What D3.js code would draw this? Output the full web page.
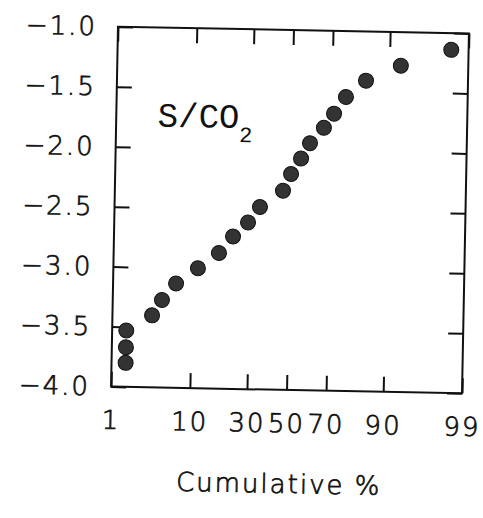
<!DOCTYPE html>
<html>
<head>
<meta charset="utf-8">
<script src="https://cdn.jsdelivr.net/npm/d3@7"></script>
<style>
  body { margin: 0; background: #fff; }
  .axis text { font-family: "DejaVu Sans", sans-serif; font-size: 26px; font-weight: 200; fill: #111; stroke: #111; stroke-width: 0.7; }
  .axis line { stroke: #111; stroke-width: 2; }
</style>
</head>
<body>
<script>
// Data: cumulative probability (%) and value

const cumPercent = [1.62, 1.62, 1.62, 3.58, 4.71, 6.79, 11.4, 17.6, 22.7, 29.0, 34.5,
                    46.1, 50.2, 55.3, 59.8, 66.6, 71.2, 76.2, 83.5, 92.4, 98.2];
const logRatio = [-3.53, -3.67, -3.80, -3.40, -3.27, -3.13, -3.00, -2.87, -2.73, -2.61, -2.48,
                  -2.34, -2.20, -2.07, -1.94, -1.81, -1.69, -1.55, -1.41, -1.28, -1.14];
const xTicks = [1, 10, 30, 50, 70, 90, 99];
const yTicks = [-4.0, -3.5, -3.0, -2.5, -2.0, -1.5, -1.0];

// Set Dimensions

const width = 483, height = 518;
const xLeft = 114.5, xRight = 465.5, yTop = 30, yBottom = 390;

// inverse normal CDF (Acklam) for the probability axis
function probit(p) {
  const a = [-39.69683028665376, 220.9460984245205, -275.9285104469687, 138.3577518672690, -30.66479806614716, 2.506628277459239];
  const b = [-54.47609879822406, 161.5858368580409, -155.6989798598866, 66.80131188771972, -13.28068155288572];
  const c = [-0.007784894002430293, -0.3223964580411365, -2.400758277161838, -2.549732539343734, 4.374664141464968, 2.938163982698783];
  const d = [0.007784695709041462, 0.3224671290700398, 2.445134137142996, 3.754408661907416];
  const pl = 0.02425;
  let q, r;
  if (p < pl) {
    q = Math.sqrt(-2 * Math.log(p));
    return (((((c[0]*q+c[1])*q+c[2])*q+c[3])*q+c[4])*q+c[5]) / ((((d[0]*q+d[1])*q+d[2])*q+d[3])*q+1);
  } else if (p <= 1 - pl) {
    q = p - 0.5; r = q*q;
    return (((((a[0]*r+a[1])*r+a[2])*r+a[3])*r+a[4])*r+a[5])*q / (((((b[0]*r+b[1])*r+b[2])*r+b[3])*r+b[4])*r+1);
  } else {
    q = Math.sqrt(-2 * Math.log(1 - p));
    return -(((((c[0]*q+c[1])*q+c[2])*q+c[3])*q+c[4])*q+c[5]) / ((((d[0]*q+d[1])*q+d[2])*q+d[3])*q+1);
  }
}

const svg = d3.select("body")
  .append("svg")
  .attr("width", width)
  .attr("height", height);

svg.append("rect").attr("width", width).attr("height", height).attr("fill", "#fff");

// the scanned original is tilted a little
const g = svg.append("g")
  .attr("transform", "rotate(1.1,290,210)");

// X scale works on normal quantiles
const z = d3.scaleLinear()
  .domain([probit(0.01), probit(0.99)])
  .range([xLeft, xRight]);
const x = p => z(probit(p / 100));

const y = d3.scaleLinear()
  .domain([-4, -1])
  .range([yBottom, yTop]);

const tickLen = 15;

// bottom
g.append("g")
  .attr("class", "axis")
  .attr("transform", `translate(0,${yBottom})`)
  .call(d3.axisBottom(z)
    .tickValues(xTicks.map(p => probit(p / 100)))
    .tickFormat((d, i) => xTicks[i])
    .tickSize(-tickLen)
    .tickPadding(24));

// top
g.append("g")
  .attr("class", "axis")
  .attr("transform", `translate(0,${yTop})`)
  .call(d3.axisTop(z)
    .tickValues(xTicks.map(p => probit(p / 100)))
    .tickFormat("")
    .tickSize(-tickLen));

// left
g.append("g")
  .attr("class", "axis")
  .attr("transform", `translate(${xLeft},0)`)
  .call(d3.axisLeft(y)
    .tickValues(yTicks)
    .tickFormat(d3.format(".1f"))
    .tickSize(-tickLen)
    .tickPadding(21));

// right
g.append("g")
  .attr("class", "axis")
  .attr("transform", `translate(${xRight},0)`)
  .call(d3.axisRight(y)
    .tickValues(yTicks)
    .tickFormat("")
    .tickSize(-tickLen));

g.selectAll(".axis .domain").remove();
g.selectAll(".axis text").attr("letter-spacing", 2);

// frame
g.append("rect")
  .attr("x", xLeft).attr("y", yTop)
  .attr("width", xRight - xLeft).attr("height", yBottom - yTop)
  .attr("fill", "none")
  .attr("stroke", "#111")
  .attr("stroke-width", 2);

// points
g.append("g")
  .selectAll("circle")
  .data(cumPercent)
  .join("circle")
  .attr("cx", d => x(d))
  .attr("cy", (d, i) => y(logRatio[i]))
  .attr("r", 7.5)
  .attr("fill", "#333")
  .attr("stroke", "#111")
  .attr("stroke-width", 1);

// label S/CO2
const lab = g.append("text")
  .attr("x", 156).attr("y", 129)
  .attr("font-family", "Liberation Mono, monospace")
  .attr("font-size", 34)
  .attr("fill", "#111")
  .text("S/CO");
lab.append("tspan")
  .attr("dy", 14)
  .attr("font-size", 22)
  .text("2");

// axis title
g.append("text")
  .attr("x", 284).attr("y", 493)
  .attr("text-anchor", "middle")
  .attr("font-family", "DejaVu Sans, sans-serif")
  .attr("font-size", 26)
  .attr("font-weight", 200)
  .attr("letter-spacing", 2)
  .attr("fill", "#111")
  .attr("stroke", "#111")
  .attr("stroke-width", 0.7)
  .text("Cumulative %");
</script>
</body>
</html>
